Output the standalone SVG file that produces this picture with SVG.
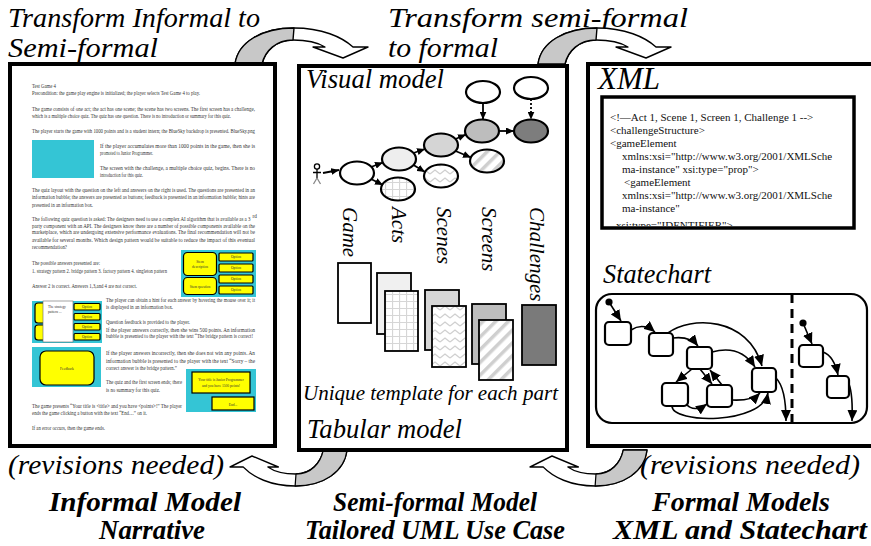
<svg xmlns="http://www.w3.org/2000/svg" width="871" height="546" viewBox="0 0 871 546">
<defs>
<style>
.it{font-family:"Liberation Serif","Times New Roman",serif;font-style:italic;fill:#000;}
.bi{font-family:"Liberation Serif","Times New Roman",serif;font-style:italic;font-weight:bold;fill:#000;}
.panel{fill:#fff;stroke:#000;stroke-width:4;}
.doc{font-family:"Liberation Serif","Times New Roman",serif;font-size:5.2px;fill:#333;}
.cyan{fill:#34c5d5;}
.yel{fill:#ffff00;stroke:#000;stroke-width:1.2;}
.wt{font-family:"Liberation Serif","Times New Roman",serif;font-size:3.6px;fill:#333;text-anchor:middle;}
.ell{stroke:#000;stroke-width:2.2;}
.va{stroke:#000;stroke-width:1.8;fill:none;marker-end:url(#ah);}
.card{stroke:#000;stroke-width:1.8;}
.st{fill:#fff;stroke:#000;stroke-width:2.2;}
.sa{fill:none;stroke:#000;stroke-width:1.6;marker-end:url(#sh);}
.xml{font-family:"Liberation Serif","Times New Roman",serif;font-size:11px;fill:#111;}
</style>
<marker id="ah" markerUnits="userSpaceOnUse" markerWidth="8" markerHeight="7" refX="8" refY="3.5" orient="auto" viewBox="0 0 8 7"><path d="M0,0 L8,3.5 L0,7 Z" fill="#000"/></marker>
<marker id="sh" markerUnits="userSpaceOnUse" markerWidth="11" markerHeight="10" refX="11" refY="5" orient="auto" viewBox="0 0 11 10"><path d="M0,0 L11,5 L0,10 Z" fill="#000"/></marker>
<pattern id="grid" patternUnits="userSpaceOnUse" width="7" height="7"><rect width="7" height="7" fill="#fff"/><path d="M0,0.5 H7 M0.5,0 V7" stroke="#d6d6d6" stroke-width="1.2"/></pattern>
<pattern id="zig" patternUnits="userSpaceOnUse" width="10" height="8"><rect width="10" height="8" fill="#fff"/><polyline points="0,6 5,2 10,6" fill="none" stroke="#cfcfcf" stroke-width="1.3"/></pattern>
<pattern id="diag" patternUnits="userSpaceOnUse" width="9" height="9" patternTransform="rotate(45)"><rect width="9" height="9" fill="#fff"/><rect width="3.5" height="9" fill="#cfcfcf"/></pattern>
<clipPath id="xmlclip"><rect x="604" y="99" width="248" height="127"/></clipPath>
<g id="curvedArrow" stroke="#000" stroke-width="1.4" stroke-linejoin="round">
<path fill="#fff" d="M235,64 C238,42 262,28 294,28 C322,28 342,37 353,47 L368,47 L343,58 L313,47 L325,47 C317,42 305,40 293,40 C276,40 265,51 262,64 Z"/>
<path fill="#c8c8c8" d="M235,64 C238,42 262,28 294,28 L293,40 C276,40 265,51 262,64 Z"/>
</g>
</defs>

<rect width="871" height="546" fill="#fff"/>

<g id="titles">
<text class="it" x="8" y="27" font-size="28" textLength="252" lengthAdjust="spacingAndGlyphs">Transform Informal to</text>
<text class="it" x="8" y="57" font-size="28" textLength="150" lengthAdjust="spacingAndGlyphs">Semi-formal</text>
<text class="it" x="388" y="27" font-size="28" textLength="300" lengthAdjust="spacingAndGlyphs">Transform semi-formal</text>
<text class="it" x="388" y="57" font-size="28" textLength="110" lengthAdjust="spacingAndGlyphs">to formal</text>
<text class="it" x="8" y="474" font-size="27" textLength="216" lengthAdjust="spacingAndGlyphs">(revisions needed)</text>
<text class="it" x="640" y="474" font-size="27" textLength="220" lengthAdjust="spacingAndGlyphs">(revisions needed)</text>
<text class="bi" x="145" y="511" font-size="28" text-anchor="middle" textLength="192" lengthAdjust="spacingAndGlyphs">Informal Model</text>
<text class="bi" x="152" y="539" font-size="28" text-anchor="middle" textLength="106" lengthAdjust="spacingAndGlyphs">Narrative</text>
<text class="bi" x="435" y="511" font-size="28" text-anchor="middle" textLength="204" lengthAdjust="spacingAndGlyphs">Semi-formal Model</text>
<text class="bi" x="435" y="539" font-size="28" text-anchor="middle" textLength="260" lengthAdjust="spacingAndGlyphs">Tailored UML Use Case</text>
<text class="bi" x="741" y="511" font-size="28" text-anchor="middle" textLength="178" lengthAdjust="spacingAndGlyphs">Formal Models</text>
<text class="bi" x="740" y="539" font-size="28" text-anchor="middle" textLength="254" lengthAdjust="spacingAndGlyphs">XML and Statechart</text>
</g>

<g id="connectors">
<use href="#curvedArrow"/>
<use href="#curvedArrow" transform="translate(303,0)"/>
<use href="#curvedArrow" transform="matrix(-0.88,0,0,-1,553.84,514)"/>
<use href="#curvedArrow" transform="matrix(-0.88,0,0,-1,853.84,514)"/>
</g>

<g id="informal">
<rect class="panel" x="10" y="64" width="265" height="382"/>
<text class="doc" x="32" y="87.5" textLength="24" lengthAdjust="spacingAndGlyphs">Test Game 4</text>
<text class="doc" x="32" y="95" textLength="168" lengthAdjust="spacingAndGlyphs">Precondition: the game play engine is initialized; the player selects Test Game 4 to play.</text>
<text class="doc" x="32" y="111" textLength="223" lengthAdjust="spacingAndGlyphs">The game consists of one act; the act has one scene; the scene has two screens. The first screen has a challenge,</text>
<text class="doc" x="32" y="117.5" textLength="199" lengthAdjust="spacingAndGlyphs">which is a multiple choice quiz. The quiz has one question. There is no introduction or summary for this quiz.</text>
<text class="doc" x="32" y="133" textLength="223" lengthAdjust="spacingAndGlyphs">The player starts the game with 1000 points and is a student intern; the BlueSky backdrop is presented. BlueSky.png</text>
<rect class="cyan" x="32" y="140" width="62" height="38"/>
<text class="doc" x="100" y="147.5" textLength="155" lengthAdjust="spacingAndGlyphs">If the player accumulates more than 1000 points in the game, then she is</text>
<text class="doc" x="100" y="155" textLength="53" lengthAdjust="spacingAndGlyphs">promoted to Junior Programmer.</text>
<text class="doc" x="100" y="170" textLength="155" lengthAdjust="spacingAndGlyphs">The screen with the challenge, a multiple choice quiz, begins. There is no</text>
<text class="doc" x="100" y="177" textLength="43" lengthAdjust="spacingAndGlyphs">introduction for this quiz.</text>
<text class="doc" x="32" y="192" textLength="223" lengthAdjust="spacingAndGlyphs">The quiz layout with the question on the left and answers on the right is used. The questions are presented in an</text>
<text class="doc" x="32" y="199" textLength="223" lengthAdjust="spacingAndGlyphs">information bubble; the answers are presented as buttons; feedback is presented in an information bubble; hints are</text>
<text class="doc" x="32" y="206.5" textLength="61" lengthAdjust="spacingAndGlyphs">presented in an information box.</text>
<text class="doc" x="32" y="220.5" textLength="218.5" lengthAdjust="spacingAndGlyphs">The following quiz question is asked: The designers need to use a complex AI algorithm that is available as a 3</text>
<text class="doc" x="252.6" y="217.6" font-size="2.8">rd</text>
<text class="doc" x="32" y="227.5" textLength="223" lengthAdjust="spacingAndGlyphs">party component with an API. The designers know there are a number of possible components available on the</text>
<text class="doc" x="32" y="234" textLength="223" lengthAdjust="spacingAndGlyphs">marketplace, which are undergoing extensive performance evaluations. The final recommendation will not be</text>
<text class="doc" x="32" y="241.5" textLength="223" lengthAdjust="spacingAndGlyphs">available for several months. Which design pattern would be suitable to reduce the impact of this eventual</text>
<text class="doc" x="32" y="249" textLength="35" lengthAdjust="spacingAndGlyphs">recommendation?</text>
<text class="doc" x="32" y="265" textLength="68" lengthAdjust="spacingAndGlyphs">The possible answers presented are:</text>
<text class="doc" x="32" y="272.5" textLength="135" lengthAdjust="spacingAndGlyphs">1. strategy pattern  2. bridge pattern  3. factory pattern  4. singleton pattern</text>
<text class="doc" x="32" y="288" textLength="105" lengthAdjust="spacingAndGlyphs">Answer 2 is correct. Answers 1,3,and 4 are not correct.</text>
<text class="doc" x="106" y="301.5" textLength="149" lengthAdjust="spacingAndGlyphs">The player can obtain a hint for each answer by hovering the mouse over it; it</text>
<text class="doc" x="106" y="309" textLength="67" lengthAdjust="spacingAndGlyphs">is displayed in an information box.</text>
<text class="doc" x="106" y="324" textLength="84" lengthAdjust="spacingAndGlyphs">Question feedback is provided to the player.</text>
<text class="doc" x="106" y="331.5" textLength="149" lengthAdjust="spacingAndGlyphs">If the player answers correctly, then she wins 500 points. An information</text>
<text class="doc" x="106" y="338" textLength="147" lengthAdjust="spacingAndGlyphs">bubble is presented to the player with the text “The bridge pattern is correct!</text>
<text class="doc" x="106" y="355" textLength="149" lengthAdjust="spacingAndGlyphs">If the player answers incorrectly, then she does not win any points. An</text>
<text class="doc" x="106" y="363" textLength="149" lengthAdjust="spacingAndGlyphs">information bubble is presented to the player with the text “Sorry – the</text>
<text class="doc" x="106" y="370" textLength="71" lengthAdjust="spacingAndGlyphs">correct answer is the bridge pattern.”</text>
<text class="doc" x="106" y="384" textLength="76" lengthAdjust="spacingAndGlyphs">The quiz and the first screen ends; there</text>
<text class="doc" x="106" y="392" textLength="54" lengthAdjust="spacingAndGlyphs">is no summary for this quiz.</text>
<text class="doc" x="32" y="407.5" textLength="150" lengthAdjust="spacingAndGlyphs">The game presents “Your title is &lt;title&gt; and you have &lt;points&gt;!” The player</text>
<text class="doc" x="32" y="415" textLength="115" lengthAdjust="spacingAndGlyphs">ends the game clicking a button with the text “End…” on it.</text>
<text class="doc" x="32" y="430" textLength="73" lengthAdjust="spacingAndGlyphs">If an error occurs, then the game ends.</text>
<rect class="cyan" x="181" y="250" width="75" height="47"/>
<rect class="yel" x="183.5" y="252.5" width="33" height="23" rx="4"/>
<text class="wt" x="200" y="262.5">Stem</text>
<text class="wt" x="200" y="267.5">description</text>
<rect class="yel" x="183.5" y="277.5" width="33" height="17" rx="4"/>
<text class="wt" x="200" y="287.5">Stem question</text>
<rect class="yel" x="219" y="253" width="34" height="8" rx="1"/>
<rect class="yel" x="219" y="264" width="34" height="8" rx="1"/>
<rect class="yel" x="219" y="275" width="34" height="8" rx="1"/>
<rect class="yel" x="219" y="286" width="34" height="8" rx="1"/>
<text class="wt" x="236" y="258.3">Option</text>
<text class="wt" x="236" y="269.3">Option</text>
<text class="wt" x="236" y="280.3">Option</text>
<text class="wt" x="236" y="291.3">Option</text>
<rect class="cyan" x="32" y="301" width="70" height="42"/>
<rect class="yel" x="35" y="303" width="12" height="20" rx="3"/>
<rect class="yel" x="35" y="325" width="12" height="15" rx="3"/>
<rect class="yel" x="74" y="303.5" width="26" height="6.5" rx="1"/>
<rect class="yel" x="74" y="313.5" width="26" height="6.5" rx="1"/>
<rect class="yel" x="74" y="323.5" width="26" height="6.5" rx="1"/>
<rect class="yel" x="74" y="333.5" width="26" height="6.5" rx="1"/>
<text class="wt" x="87" y="308">Option</text>
<text class="wt" x="87" y="318">Option</text>
<text class="wt" x="87" y="328">Option</text>
<text class="wt" x="87" y="338">Option</text>
<rect x="43" y="301" width="30" height="41" fill="#fff" stroke="#666" stroke-width="0.6"/>
<text class="wt" x="48" y="307.5" style="text-anchor:start">The strategy</text>
<text class="wt" x="48" y="313" style="text-anchor:start">pattern ...</text>
<rect class="cyan" x="32" y="347" width="69" height="40"/>
<rect class="yel" x="40" y="351" width="54" height="34" rx="6" stroke-width="1.4"/>
<text class="wt" x="67" y="370" font-size="4">Feedback</text>
<rect class="cyan" x="186" y="369" width="70" height="43"/>
<rect class="yel" x="192" y="372" width="58" height="21"/>
<text class="wt" x="221" y="380.5" font-size="3.4">Your title is Junior Programmer</text>
<text class="wt" x="221" y="386.5" font-size="3.4">and you have 1500 points!</text>
<rect class="yel" x="212" y="397" width="42" height="13"/>
<text class="wt" x="233" y="405.5" font-size="4">End...</text>
</g>

<g id="semiformal">
<rect class="panel" x="299" y="66" width="268" height="384"/>
<text class="it" x="306" y="88" font-size="26.5" textLength="138" lengthAdjust="spacingAndGlyphs">Visual model</text>
<text class="it" x="303" y="400" font-size="21" textLength="255" lengthAdjust="spacingAndGlyphs">Unique template for each part</text>
<text class="it" x="307" y="438" font-size="26.5" textLength="155" lengthAdjust="spacingAndGlyphs">Tabular model</text>
</g>

<g id="actor" stroke="#000" stroke-width="1.3" fill="none">
<circle cx="317" cy="166.5" r="2.6" fill="#fff"/>
<path d="M317,169 V178 M313,172.5 H321"/>
<path d="M317,178 L313.5,184 M317,178 L320.5,184" stroke="#888"/>
</g>

<g id="visual-nodes">
<ellipse class="ell" cx="357" cy="173" rx="17" ry="11.5" fill="#fff"/>
<ellipse class="ell" cx="399" cy="159" rx="17" ry="11.5" fill="#eeeeee"/>
<ellipse class="ell" cx="398" cy="189" rx="17" ry="11.5" fill="url(#grid)"/>
<ellipse class="ell" cx="441" cy="145" rx="17" ry="11.5" fill="#d5d5d5"/>
<ellipse class="ell" cx="441" cy="176" rx="17" ry="11.5" fill="url(#zig)"/>
<ellipse class="ell" cx="482" cy="131" rx="17" ry="11.5" fill="#bdbdbd"/>
<ellipse class="ell" cx="487" cy="161" rx="17" ry="11.5" fill="url(#diag)"/>
<ellipse class="ell" cx="531" cy="131" rx="17" ry="11.5" fill="#7d7d7d"/>
<ellipse class="ell" cx="483" cy="92" rx="17" ry="11" fill="#fff"/>
<ellipse class="ell" cx="531" cy="88" rx="17" ry="11" fill="#fff"/>
</g>

<g id="visual-connectors">
<path class="va" d="M323,173 L339,170"/>
<path class="va" d="M371,167 L383,162.5"/>
<path class="va" d="M371,179 L383,185"/>
<path class="va" d="M413.5,153 L425,149"/>
<path class="va" d="M413.5,165 L425,172"/>
<path class="va" d="M455.5,139 L466,134.5"/>
<path class="va" d="M455.5,151 L471,157.5"/>
<path class="va" d="M499,131 L514,131"/>
<path class="va" d="M483,103 L483,119.5"/>
<path class="va" d="M531,99 L531,119.5" stroke-dasharray="2,2"/>
</g>

<g id="level-labels">
<text class="it" font-size="21" transform="translate(343,207) rotate(90)">Game</text>
<text class="it" font-size="21" transform="translate(392,207) rotate(90)">Acts</text>
<text class="it" font-size="21" transform="translate(437,207) rotate(90)">Scenes</text>
<text class="it" font-size="21" transform="translate(482,207) rotate(90)">Screens</text>
<text class="it" font-size="21" transform="translate(530,207) rotate(90)">Challenges</text>
</g>

<g id="templates">
<rect class="card" x="338" y="263" width="33" height="60" fill="#fff"/>
<rect class="card" x="377" y="273" width="34" height="61" fill="#f0f0f0"/>
<rect class="card" x="385" y="291" width="33" height="60" fill="url(#grid)"/>
<rect class="card" x="425" y="290" width="34" height="60" fill="#d6d6d6"/>
<rect class="card" x="432" y="306" width="34" height="61" fill="url(#zig)"/>
<rect class="card" x="472" y="304" width="34" height="60" fill="#bdbdbd"/>
<rect class="card" x="479" y="320" width="34" height="60" fill="url(#diag)"/>
<rect class="card" x="522" y="305" width="34" height="60" fill="#7a7a7a"/>
</g>

<g id="formal">
<rect class="panel" x="588" y="64" width="300" height="382"/>
<text class="it" x="598" y="89" font-size="31" textLength="62" lengthAdjust="spacingAndGlyphs">XML</text>
<text class="it" x="603" y="283" font-size="26.5" textLength="108" lengthAdjust="spacingAndGlyphs">Statechart</text>
</g>

<g id="xml-box">
<rect x="602" y="97" width="252" height="131" fill="#fff" stroke="#000" stroke-width="3.5"/>
<g clip-path="url(#xmlclip)">
<text class="xml" x="610" y="121">&lt;!—Act 1, Scene 1, Screen 1, Challenge 1 --&gt;</text>
<text class="xml" x="610" y="134">&lt;challengeStructure&gt;</text>
<text class="xml" x="610" y="147">&lt;gameElement</text>
<text class="xml" x="622" y="160">xmlns:xsi="http://www.w3.org/2001/XMLSche</text>
<text class="xml" x="622" y="173">ma-instance" xsi:type="prop"&gt;</text>
<text class="xml" x="624" y="186">&lt;gameElement</text>
<text class="xml" x="622" y="199">xmlns:xsi="http://www.w3.org/2001/XMLSche</text>
<text class="xml" x="622" y="212">ma-instance"</text>
<text class="xml" x="616" y="229">xsi:type="IDENTIFIER"&gt;</text>
</g>
</g>

<g id="statechart">
<rect x="596" y="294" width="271" height="129" rx="16" fill="none" stroke="#000" stroke-width="2.2"/>
<line x1="792" y1="294" x2="792" y2="423" stroke="#000" stroke-width="3" stroke-dasharray="9,6"/>
<circle cx="609" cy="302" r="3.6" fill="#000"/>
<circle cx="803" cy="323" r="3.6" fill="#000"/>
<rect class="st" x="605" y="322" width="26" height="23" rx="4"/>
<rect class="st" x="649" y="333" width="24" height="23" rx="4"/>
<rect class="st" x="687" y="347" width="25" height="22" rx="4"/>
<rect class="st" x="662" y="383" width="26" height="23" rx="4"/>
<rect class="st" x="707" y="385" width="25" height="22" rx="4"/>
<rect class="st" x="752" y="368" width="24" height="24" rx="4"/>
<rect class="st" x="799" y="345" width="24" height="22" rx="4"/>
<rect class="st" x="827" y="376" width="22" height="22" rx="4"/>
</g>

<g id="statechart-connectors">
<path class="sa" d="M609,302 L621,321"/>
<path class="sa" d="M803,323 L812,344"/>
<path class="sa" d="M631,330 Q643,322 655,332"/>
<path class="sa" d="M673,338 Q690,336 698,346"/>
<path class="sa" d="M668,333 C690,316 748,316 762,366"/>
<path class="sa" d="M712,352 Q740,344 755,367"/>
<path class="sa" d="M692,369 L676,382"/>
<path class="sa" d="M722,385 L710,370"/>
<path class="sa" d="M700,369 L712,384"/>
<path class="sa" d="M686,404 Q694,413 707,404"/>
<path class="sa" d="M732,400 Q752,401 760,393"/>
<path class="sa" d="M672,406 C672,424 762,425 768,393"/>
<path class="sa" d="M776,378 C783,385 786,400 786,421"/>
<path class="sa" d="M823,352 Q834,356 838,375"/>
<path class="sa" d="M849,384 Q853,395 852,421"/>
</g>
</svg>
